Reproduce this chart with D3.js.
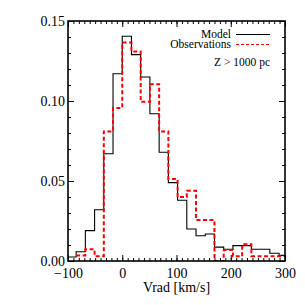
<!DOCTYPE html>
<html>
<head>
<meta charset="utf-8">
<script src="https://cdn.jsdelivr.net/npm/d3@7"></script>
<style>
  body { margin: 0; background: #fff; }
  text { font-family: "Liberation Serif", "DejaVu Serif", serif; fill: #000; }
</style>
</head>
<body>
<svg width="305" height="305"></svg>
<script>
// histogram of radial velocity, Z > 1000 pc
// bin edges in km/s (last one closes the last bin)
var binEdges = [-102, -85, -68, -51, -34, -17, 0, 17, 34, 51, 68, 85, 102,
                119, 136, 153, 170, 187, 204, 221, 238, 255, 272, 289, 306];

var modelValues = [0.0025, 0.0058, 0.019, 0.032, 0.067, 0.117, 0.1405, 0.129,
                   0.115, 0.092, 0.068, 0.049, 0.038, 0.020, 0.0158, 0.0169,
                   0.0087, 0.0073, 0.0096, 0.0096, 0.0073, 0.0073, 0.0048, 0.0035];

var obsValues = [null, 0.0035, 0.0073, 0.003, 0.081, 0.0957, 0.1365, 0.131,
                 0.0995, 0.1105, 0.081, 0.0512, 0.040, 0.0439, 0.0256, 0.0256,
                 0.0, 0.0069, 0.003, 0.0104, 0.003, 0.003, 0.003, 0.003];

var xTicks = [-100, 0, 100, 200, 300];
var yTicks = [0.00, 0.05, 0.10, 0.15];

var svg = d3.select("svg"),
    margin = {left: 68, right: 20, top: 21, bottom: 44},
    width = +svg.attr("width") - margin.left - margin.right,
    height = +svg.attr("height") - margin.top - margin.bottom,
    g = svg.append("g").attr("transform", "translate(" + margin.left + "," + margin.top + ")");

var x = d3.scaleLinear().domain([-100, 300]).range([0, width]);
var y = d3.scaleLinear().domain([0, 0.15]).range([height, 0]);

g.append("clipPath").attr("id", "plotclip")
  .append("rect").attr("width", width).attr("height", height);

// step points: one per bin start plus the closing edge
function steps(values) {
  var pts = values.map(function(v, i) { return {x: binEdges[i], v: v}; });
  pts.push({x: binEdges[binEdges.length - 1], v: values[values.length - 1]});
  return pts;
}

var line = d3.line()
    .defined(function(d) { return d.v !== null; })
    .curve(d3.curveStepAfter)
    .x(function(d) { return x(d.x); })
    .y(function(d) { return y(d.v); });

g.append("path")
    .attr("clip-path", "url(#plotclip)")
    .attr("d", line(steps(modelValues)))
    .attr("fill", "none")
    .attr("stroke", "#000")
    .attr("stroke-width", 1.1);

g.append("path")
    .attr("clip-path", "url(#plotclip)")
    .attr("d", line(steps(obsValues)))
    .attr("fill", "none")
    .attr("stroke", "#ff0000")
    .attr("stroke-width", 2)
    .attr("stroke-dasharray", "4,2.5");

// axes, ticks pointing inward on all four sides
function styleAxis(sel) {
  sel.select(".domain").remove();
  sel.selectAll(".tick line").attr("stroke", "#000").attr("stroke-width", 1);
  sel.selectAll("text").style("font-size", "14px").style("font-family", "Liberation Serif, serif");
}

g.append("g").attr("transform", "translate(0," + height + ")")
  .call(d3.axisBottom(x).tickValues(xTicks).tickSize(-6).tickPadding(7).tickFormat(d3.format("d")))
  .call(styleAxis);
g.append("g").attr("transform", "translate(0," + height + ")")
  .call(d3.axisBottom(x).ticks(40).tickSize(-3).tickFormat(""))
  .call(styleAxis);
g.append("g")
  .call(d3.axisTop(x).tickValues(xTicks).tickSize(-6).tickFormat(""))
  .call(styleAxis);
g.append("g")
  .call(d3.axisTop(x).ticks(40).tickSize(-3).tickFormat(""))
  .call(styleAxis);

g.append("g")
  .call(d3.axisLeft(y).tickValues(yTicks).tickSize(-6).tickPadding(3).tickFormat(d3.format(".2f")))
  .call(styleAxis);
g.append("g")
  .call(d3.axisLeft(y).ticks(15).tickSize(-3).tickFormat(""))
  .call(styleAxis);
g.append("g").attr("transform", "translate(" + width + ",0)")
  .call(d3.axisRight(y).tickValues(yTicks).tickSize(-6).tickFormat(""))
  .call(styleAxis);
g.append("g").attr("transform", "translate(" + width + ",0)")
  .call(d3.axisRight(y).ticks(15).tickSize(-3).tickFormat(""))
  .call(styleAxis);

g.append("rect")
    .attr("width", width).attr("height", height)
    .attr("fill", "none").attr("stroke", "#000").attr("stroke-width", 1.6);

g.append("text")
    .attr("x", width / 2).attr("y", height + 31)
    .attr("text-anchor", "middle")
    .style("font-size", "14px")
    .text("Vrad [km/s]");

// legend
var legend = [
  {label: "Model", color: "#000", dash: null, w: 1.1},
  {label: "Observations", color: "#ff0000", dash: "3,2", w: 1.2}
];
legend.forEach(function(d, i) {
  var ly = 13.5 + i * 10;
  g.append("text")
      .attr("x", 163).attr("y", ly + 3)
      .attr("text-anchor", "end")
      .style("font-size", "11.5px")
      .text(d.label);
  g.append("line")
      .attr("x1", 168).attr("x2", 202)
      .attr("y1", ly).attr("y2", ly)
      .attr("stroke", d.color)
      .attr("stroke-width", d.w)
      .attr("stroke-dasharray", d.dash);
});

g.append("text")
    .attr("x", 202).attr("y", 44.5)
    .attr("text-anchor", "end")
    .style("font-size", "11.5px")
    .text("Z > 1000 pc");
</script>
</body>
</html>
